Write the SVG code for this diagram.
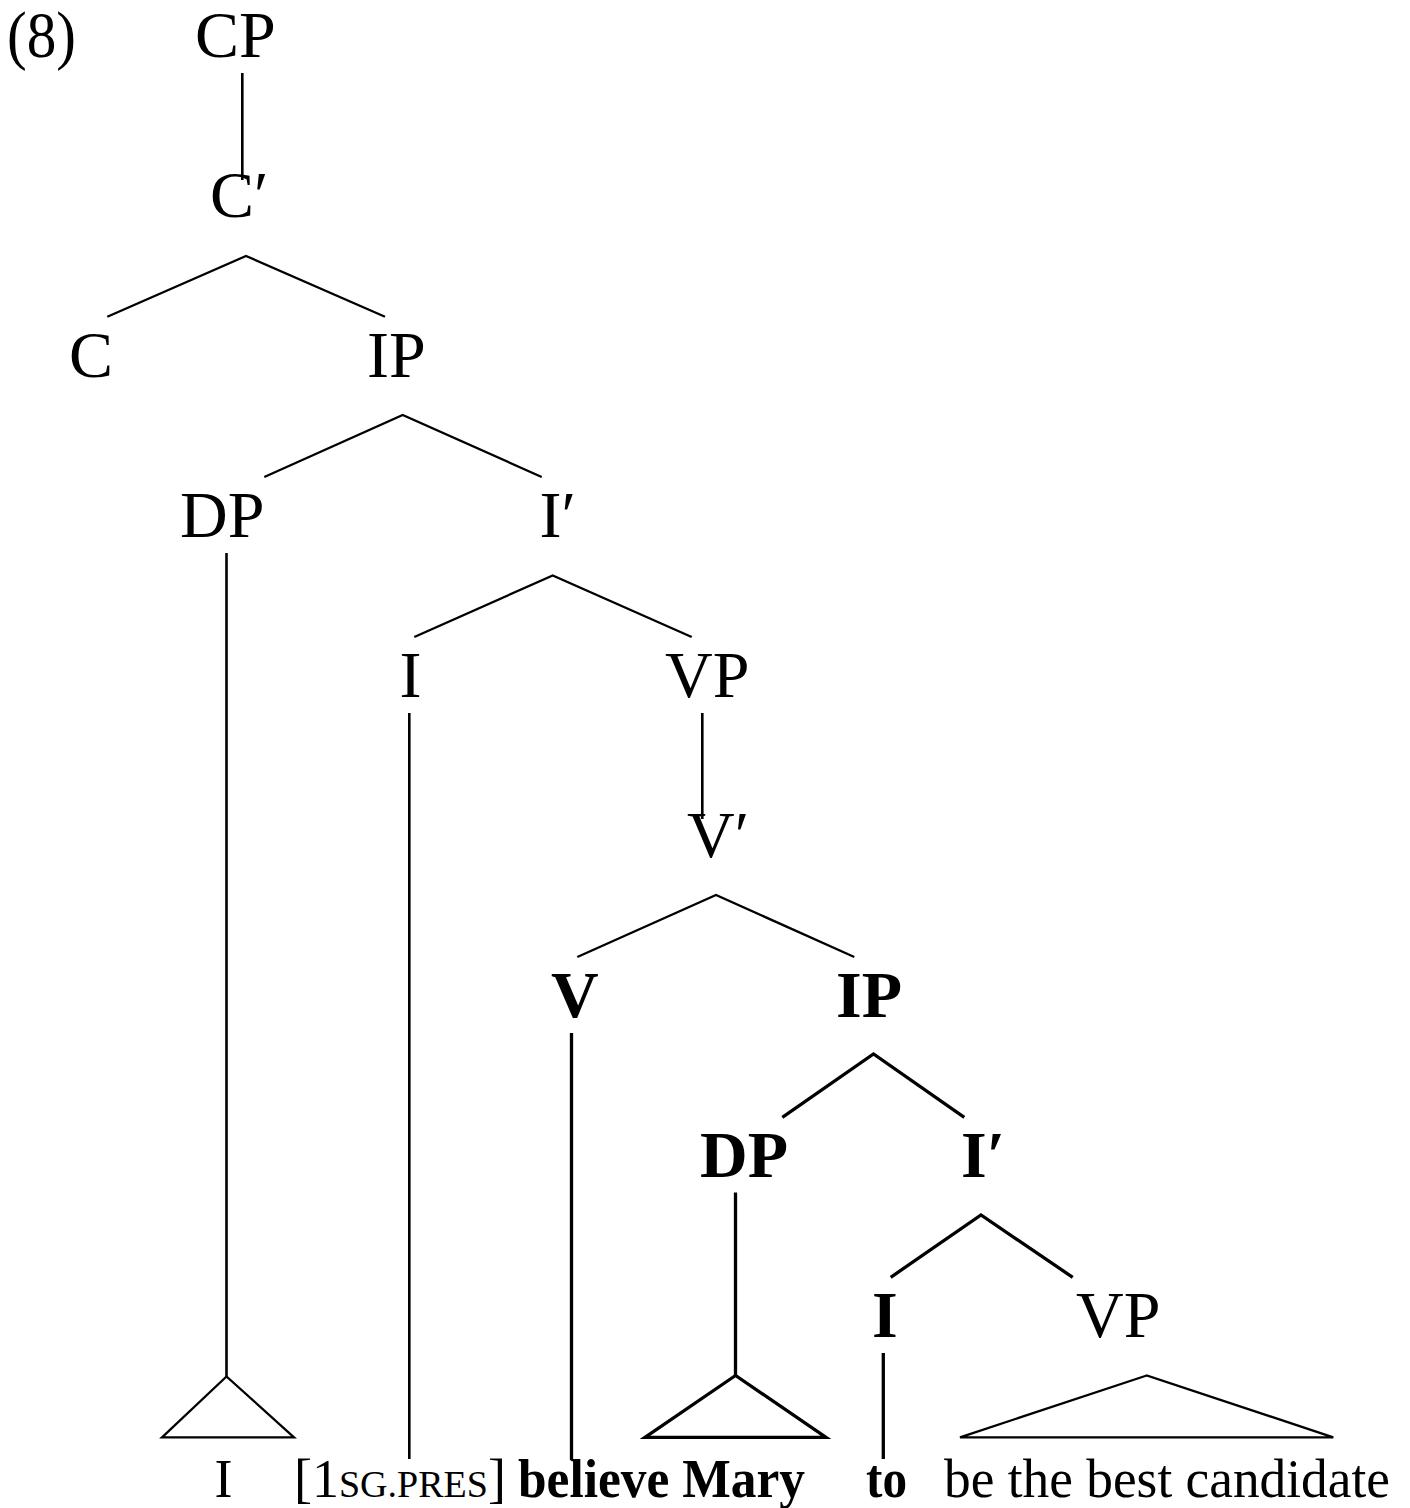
<svg xmlns="http://www.w3.org/2000/svg" width="1410" height="1508" viewBox="0 0 1410 1508">
<style>
text{font-family:"Liberation Serif","Times New Roman",serif;fill:#000}
.n{font-size:66px}
.b{font-weight:bold}
.leaf{font-size:54px}
.sc{font-size:38px}
.e{stroke:#000;stroke-width:2.3;fill:none;stroke-linecap:butt}
.v{stroke:#000;stroke-width:2.6;fill:none;stroke-linecap:butt}
.eb{stroke:#000;stroke-width:3.3;fill:none;stroke-linecap:butt}
</style>
<rect width="1410" height="1508" fill="#fff"/>
<g id="connectors">
<line class="v" x1="242.3" y1="73" x2="242.3" y2="180"/>
<polyline class="e" points="107.3,316.7 246,256 385,316.7"/>
<polyline class="e" points="264.3,477 402.7,415 541.7,477"/>
<line class="v" x1="226.5" y1="553" x2="226.5" y2="1376.5"/>
<polygon class="e" points="226.5,1376.5 162,1437.3 294,1437.3"/>
<polyline class="e" points="414.3,637 552.7,575.5 691.7,637"/>
<line class="v" x1="409.3" y1="713" x2="409.3" y2="1459"/>
<line class="v" x1="702.3" y1="713" x2="702.3" y2="819"/>
<polyline class="e" points="577.3,957 716,895 854.3,957"/>
<line class="eb" x1="571.5" y1="1033" x2="571.5" y2="1460"/>
<polyline class="eb" points="782.3,1117.3 873.5,1054 964.3,1117.3"/>
<line class="eb" x1="735.5" y1="1192.5" x2="735.5" y2="1375.5"/>
<polygon class="eb" points="735.5,1375.5 645,1437.3 826,1437.3"/>
<polyline class="eb" points="890.7,1277.3 981,1215 1072.7,1277.3"/>
<line class="eb" x1="883.3" y1="1353" x2="883.3" y2="1459"/>
<polygon class="e" points="1146.7,1375.5 960,1437.3 1333.3,1437.3"/>
</g>
<g id="ex-num"><text class="n" x="7" y="57" textLength="69" lengthAdjust="spacingAndGlyphs">(8)</text></g>
<g id="CP"><text class="n" x="195" y="57">CP</text></g>
<g id="Cbar"><text class="n" x="210" y="216.5">C′</text></g>
<g id="C"><text class="n" x="69" y="377">C</text></g>
<g id="IP1"><text class="n" x="367" y="377">IP</text></g>
<g id="DP1"><text class="n" x="180" y="537">DP</text></g>
<g id="Ibar1"><text class="n" x="539.5" y="537">I′</text></g>
<g id="I1"><text class="n" x="399.5" y="697">I</text></g>
<g id="VP1"><text class="n" x="665" y="697">VP</text></g>
<g id="Vbar"><text class="n" x="687" y="857">V′</text></g>
<g id="V"><text class="n b" x="551" y="1017">V</text></g>
<g id="IP2"><text class="n b" x="836" y="1017">IP</text></g>
<g id="DP2"><text class="n b" x="700" y="1177">DP</text></g>
<g id="Ibar2"><text class="n b" x="961" y="1177">I′</text></g>
<g id="I2"><text class="n b" x="872" y="1337">I</text></g>
<g id="VP2"><text class="n" x="1076" y="1337">VP</text></g>
<g id="leaf-I"><text class="leaf" x="214.5" y="1497">I</text></g>
<g id="leaf-infl"><text class="leaf" x="294" y="1497">[1<tspan class="sc">SG.PRES</tspan>]</text></g>
<g id="leaf-believe"><text class="leaf b" x="518" y="1497" textLength="287" lengthAdjust="spacingAndGlyphs">believe Mary</text></g>
<g id="leaf-to"><text class="leaf b" x="866" y="1497" textLength="41" lengthAdjust="spacingAndGlyphs">to</text></g>
<g id="leaf-vp"><text class="leaf" x="944" y="1497" textLength="446" lengthAdjust="spacingAndGlyphs">be the best candidate</text></g>
</svg>
